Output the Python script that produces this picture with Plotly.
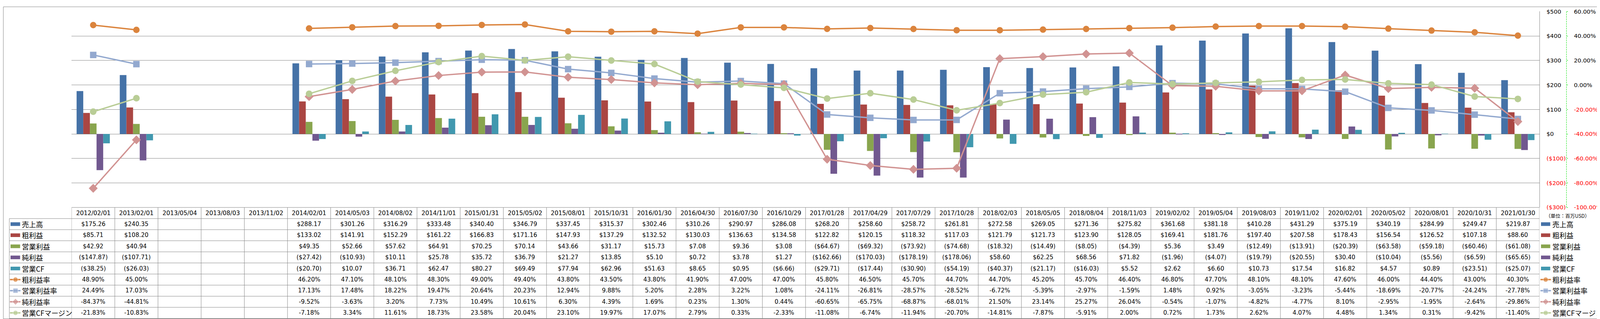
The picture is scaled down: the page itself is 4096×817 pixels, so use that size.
import plotly.graph_objects as go

# ---------------- data ----------------
dates = ["2012/02/01", "2013/02/01", "2013/05/04", "2013/08/03", "2013/11/02",
         "2014/02/01", "2014/05/03", "2014/08/02", "2014/11/01", "2015/01/31",
         "2015/05/02", "2015/08/01", "2015/10/31", "2016/01/30", "2016/04/30",
         "2016/07/30", "2016/10/29", "2017/01/28", "2017/04/29", "2017/07/29",
         "2017/10/28", "2018/02/03", "2018/05/05", "2018/08/04", "2018/11/03",
         "2019/02/02", "2019/05/04", "2019/08/03", "2019/11/02", "2020/02/01",
         "2020/05/02", "2020/08/01", "2020/10/31", "2021/01/30"]

sales = [175.26, 240.35, None, None, None, 288.17, 301.26, 316.29, 333.48, 340.40,
         346.79, 337.45, 315.37, 302.46, 310.26, 290.97, 286.08, 268.20, 258.60, 258.72,
         261.81, 272.58, 269.05, 271.36, 275.82, 361.68, 381.18, 410.28, 431.29, 375.19,
         340.19, 284.99, 249.47, 219.87]
gross_profit = [85.71, 108.20, None, None, None, 133.02, 141.91, 152.29, 161.22, 166.83,
                171.16, 147.93, 137.29, 132.52, 130.03, 136.63, 134.58, 122.82, 120.15, 118.32,
                117.03, 121.79, 121.73, 123.90, 128.05, 169.41, 181.76, 197.40, 207.58, 178.43,
                156.54, 126.52, 107.18, 88.60]
operating_income = [42.92, 40.94, None, None, None, 49.35, 52.66, 57.62, 64.91, 70.25,
                    70.14, 43.66, 31.17, 15.73, 7.08, 9.36, 3.08, -64.67, -69.32, -73.92,
                    -74.68, -18.32, -14.49, -8.05, -4.39, 5.36, 3.49, -12.49, -13.91, -20.39,
                    -63.58, -59.18, -60.46, -61.08]
net_income = [-147.87, -107.71, None, None, None, -27.42, -10.93, 10.11, 25.78, 35.72,
              36.79, 21.27, 13.85, 5.10, 0.72, 3.78, 1.27, -162.66, -170.03, -178.19,
              -178.06, 58.60, 62.25, 68.56, 71.82, -1.96, -4.07, -19.79, -20.55, 30.40,
              -10.04, -5.56, -6.59, -65.65]
operating_cf = [-38.25, -26.03, None, None, None, -20.70, 10.07, 36.71, 62.47, 80.27,
                69.49, 77.94, 62.96, 51.63, 8.65, 0.95, -6.66, -29.71, -17.44, -30.90,
                -54.19, -40.37, -21.17, -16.03, 5.52, 2.62, 6.60, 10.73, 17.54, 16.82,
                4.57, 0.89, -23.51, -25.07]
gross_margin = [48.90, 45.00, None, None, None, 46.20, 47.10, 48.10, 48.30, 49.00,
                49.40, 43.80, 43.50, 43.80, 41.90, 47.00, 47.00, 45.80, 46.50, 45.70,
                44.70, 44.70, 45.20, 45.70, 46.40, 46.80, 47.70, 48.10, 48.10, 47.60,
                46.00, 44.40, 43.00, 40.30]
operating_margin = [24.49, 17.03, None, None, None, 17.13, 17.48, 18.22, 19.47, 20.64,
                    20.23, 12.94, 9.88, 5.20, 2.28, 3.22, 1.08, -24.11, -26.81, -28.57,
                    -28.52, -6.72, -5.39, -2.97, -1.59, 1.48, 0.92, -3.05, -3.23, -5.44,
                    -18.69, -20.77, -24.24, -27.78]
net_margin = [-84.37, -44.81, None, None, None, -9.52, -3.63, 3.20, 7.73, 10.49,
              10.61, 6.30, 4.39, 1.69, 0.23, 1.30, 0.44, -60.65, -65.75, -68.87,
              -68.01, 21.50, 23.14, 25.27, 26.04, -0.54, -1.07, -4.82, -4.77, 8.10,
              -2.95, -1.95, -2.64, -29.86]
cf_margin = [-21.83, -10.83, None, None, None, -7.18, 3.34, 11.61, 18.73, 23.58,
             20.04, 23.10, 19.97, 17.07, 2.79, 0.33, -2.33, -11.08, -6.74, -11.94,
             -20.70, -14.81, -7.87, -5.91, 2.00, 0.72, 1.73, 2.62, 4.07, 4.48,
             1.34, 0.31, -9.42, -11.40]

bar_names = ["売上高", "粗利益", "営業利益", "純利益", "営業CF"]
line_names = ["粗利益率", "営業利益率", "純利益率", "営業CFマージン"]
usd_ticks = [-300, -200, -100, 0, 100, 200, 300, 400, 500]
pct_ticks = [-100, -80, -60, -40, -20, 0, 20, 40, 60]
unit_label = "（単位：百万USD）"

bar_series = [sales, gross_profit, operating_income, net_income, operating_cf]
line_series = [gross_margin, operating_margin, net_margin, cf_margin]

# ---------------- style ----------------
bar_colors = ["#4572A7", "#AA4643", "#89A54E", "#71588F", "#4198AF"]
line_colors = ["#DB843D", "#93A9CF", "#D19392", "#B9CD96"]
line_symbols = ["circle", "square", "diamond", "circle"]
line_msize = [16.5, 16.5, 17.5, 17]
GRID = "#878787"
GREEN = "#00E000"
NUM_FONT = "DejaVu Sans, Noto Sans CJK JP"
JP_FONT = "Noto Sans CJK JP, DejaVu Sans"

W, H = 4096, 817
PL, PR, PT, PB = 175.4, 3933.0, 12.7, 525.2   # plot area in px
AX2_X = 4002.2                                # percent axis position px
ROW0, ROW_H, NROWS = 554.3, 29.02, 9
TLEFT = 15.9
TBOTTOM = ROW0 + NROWS * ROW_H


def fx(X):
    return X / W


def fy(Y):
    return 1 - Y / H


def money(v):
    return f"${v:,.2f}" if v >= 0 else f"(${-v:,.2f})"


def pct(v):
    return f"{v:.2f}%"


def red(s):
    return f'<span style="color:#FF0000">{s}</span>'


fig = go.Figure()

for name, vals, col in zip(bar_names, bar_series, bar_colors):
    fig.add_trace(go.Bar(x=dates, y=vals, name=name, marker=dict(color=col, line=dict(width=0)),
                         xaxis="x", yaxis="y", showlegend=False))

for name, vals, col, sym, ms in zip(line_names, line_series, line_colors, line_symbols, line_msize):
    fig.add_trace(go.Scatter(x=dates, y=vals, name=name, mode="lines+markers",
                             line=dict(color=col, width=3.5),
                             marker=dict(symbol=sym, size=ms, color=col, line=dict(width=0)),
                             connectgaps=False, xaxis="x", yaxis="y2", showlegend=False))

# legend keys for line series (left table column and right legend)
for r, (col, sym) in enumerate(zip(line_colors, line_symbols)):
    yc = ROW0 + (5 + r + 0.5) * ROW_H
    for x0, xm, x1 in [(17.4, 31.7, 44.5), (3935.5, 3949.0, 3962.5)]:
        fig.add_trace(go.Scatter(x=[x0, xm, x1], y=[yc, yc, yc], mode="lines+markers",
                                 line=dict(color=col, width=3.5),
                                 marker=dict(symbol=sym, size=[0, 12.5, 0], color=col),
                                 xaxis="x3", yaxis="y3", showlegend=False, hoverinfo="skip"))

usd_text = [red(money(v).replace(".00", "")) if v < 0 else money(v).replace(".00", "") for v in usd_ticks]
pct_text = [red(pct(v)) if v < 0 else pct(v) for v in pct_ticks]

fig.update_layout(
    width=W, height=H,
    margin=dict(l=0, r=0, t=0, b=0),
    paper_bgcolor="white", plot_bgcolor="rgba(0,0,0,0)",
    font=dict(family=NUM_FONT, size=15, color="#000000"),
    barmode="group", bargap=0.23, bargroupgap=0,
    xaxis=dict(domain=[fx(PL), fx(PR)], type="category", categoryorder="array",
               categoryarray=dates, range=[-0.5, len(dates) - 0.5], showticklabels=False,
               showgrid=False, zeroline=False, showline=False, ticks="", anchor="y",
               fixedrange=True),
    yaxis=dict(domain=[fy(PB), fy(PT)], range=[-300, 500], tickvals=usd_ticks, ticktext=usd_text,
               side="right", anchor="x", showgrid=True, gridcolor=GRID, gridwidth=1,
               zeroline=True, zerolinecolor=GRID, zerolinewidth=1,
               showline=True, linecolor=GRID, linewidth=1, ticks="",
               ticklabelstandoff=14, tickfont=dict(family=NUM_FONT, size=14.8, color="#000000"),
               fixedrange=True),
    yaxis2=dict(overlaying="y", side="right", anchor="free", position=fx(AX2_X),
                range=[-100, 60], tickvals=pct_ticks, ticktext=pct_text,
                showgrid=False, zeroline=False, showline=False,
                ticks="outside", ticklen=3, tickcolor=GREEN, tickwidth=1,
                ticklabelstandoff=12, tickfont=dict(family=NUM_FONT, size=14.8, color="#000000"),
                fixedrange=True),
    xaxis3=dict(domain=[0, 1], range=[0, W], visible=False, anchor="y3", fixedrange=True),
    yaxis3=dict(domain=[0, 1], range=[H, 0], visible=False, anchor="x3", fixedrange=True),
)

shapes = []
line_style = dict(color=GRID, width=1)
# outer chart border
shapes.append(dict(type="rect", xref="paper", yref="paper", x0=fx(0.5), x1=fx(W - 0.5),
                   y0=fy(H - 0.5), y1=fy(0.5), line=line_style, layer="above"))
# green dashed percent-axis line
shapes.append(dict(type="line", xref="paper", yref="paper", x0=fx(AX2_X), x1=fx(AX2_X),
                   y0=fy(PB), y1=fy(PT), line=dict(color=GREEN, width=1, dash="4px,2px"),
                   layer="above"))
# table horizontal lines
shapes.append(dict(type="line", xref="paper", yref="paper", x0=fx(PL), x1=fx(PR),
                   y0=fy(PB), y1=fy(PB), line=line_style, layer="above"))
for k in range(NROWS + 1):
    Y = ROW0 + k * ROW_H
    shapes.append(dict(type="line", xref="paper", yref="paper", x0=fx(TLEFT), x1=fx(PR),
                       y0=fy(Y), y1=fy(Y), line=line_style, layer="above"))
# table vertical lines (category boundaries)
for i in range(len(dates) + 1):
    shapes.append(dict(type="line", xref="x", yref="paper", x0=i - 0.5, x1=i - 0.5,
                       y0=fy(PB), y1=fy(TBOTTOM), line=line_style, layer="above"))
shapes.append(dict(type="line", xref="paper", yref="paper", x0=fx(TLEFT), x1=fx(TLEFT),
                   y0=fy(ROW0), y1=fy(TBOTTOM), line=line_style, layer="above"))
# bar legend swatches
for r, col in enumerate(bar_colors):
    yc = ROW0 + (r + 0.5) * ROW_H
    for x0, x1 in [(19.0, 43.5), (3937.0, 3960.6)]:
        shapes.append(dict(type="rect", xref="paper", yref="paper", x0=fx(x0), x1=fx(x1),
                           y0=fy(yc + 4.75), y1=fy(yc - 4.75), fillcolor=col,
                           line=dict(width=0), layer="above"))

annotations = []
# header row
for d in dates:
    annotations.append(dict(x=d, xref="x", y=fy((PB + ROW0) / 2), yref="paper", text=d,
                            showarrow=False, xanchor="center", yanchor="middle",
                            font=dict(family=NUM_FONT, size=15.3, color="#000000")))
# data rows
all_series = bar_series + line_series
all_names = bar_names + line_names
for r, vals in enumerate(all_series):
    yc = fy(ROW0 + (r + 0.5) * ROW_H)
    fmt = money if r < 5 else pct
    for d, v in zip(dates, vals):
        if v is None:
            continue
        annotations.append(dict(x=d, xref="x", y=yc, yref="paper", text=fmt(v),
                                showarrow=False, xanchor="center", yanchor="middle",
                                font=dict(family=NUM_FONT, size=15, color="#000000")))
    for xt in (46.0, 3964.0):
        annotations.append(dict(x=fx(xt), xref="paper", y=yc, yref="paper", text=all_names[r],
                                showarrow=False, xanchor="left", yanchor="middle",
                                font=dict(family=JP_FONT, size=18, color="#000000")))
annotations.append(dict(x=fx(3947.0), xref="paper", y=fy(546.4), yref="paper", text=unit_label,
                        showarrow=False, xanchor="left", yanchor="middle",
                        font=dict(family=JP_FONT, size=12.5, color="#000000")))

fig.update_layout(shapes=shapes, annotations=annotations)

fig.write_html("out.html")
